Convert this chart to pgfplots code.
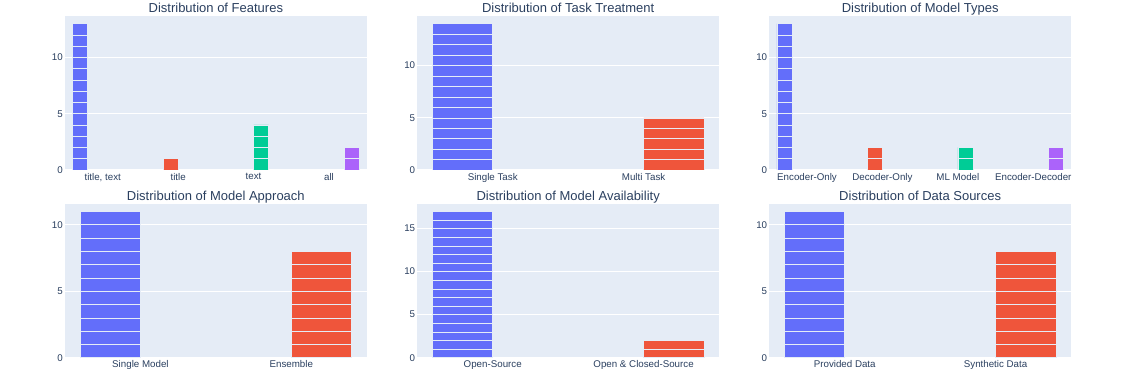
\documentclass[border=0pt]{standalone}
\usepackage{fontspec}
\setmainfont{Liberation Sans}
\usepackage{pgfplots}
\pgfplotsset{compat=1.18}

\definecolor{plotbg}{HTML}{E5ECF6}
\definecolor{txt}{HTML}{2A3F5F}
\definecolor{c1}{HTML}{636EFA}
\definecolor{c2}{HTML}{EF553B}
\definecolor{c3}{HTML}{00CC96}
\definecolor{c4}{HTML}{AB63FA}

% one panel of the 2x3 grid, sizes in px-like pt
\pgfplotsset{
  panel/.style={
    scale only axis, width=301.7pt, height=154pt, anchor=south west,
    axis background/.style={fill=plotbg},
    axis line style={draw=none}, major tick length=0pt,
    ymajorgrids, grid style={white, line width=1pt},
    ymin=0, ytick={0,5,10,15},
    /pgf/number format/assume math mode=true,
    tick label style={font=\fontsize{9.75}{11}\selectfont, text=txt},
    yticklabel style={inner sep=0pt, xshift=-2pt},
    xticklabel style={inner sep=0pt, yshift=-3pt},
    every axis title shift=0pt,
    title style={font=\fontsize{13}{15}\selectfont, text=txt,
                 at={(0.5,1)}, anchor=base, yshift=3.4pt},
  },
  % grouped bars: 4 traces -> width 0.2, 2 traces -> width 0.4 (in category units)
  four/.style={xmin=-0.5, xmax=3.5, xtick={0,1,2,3}},
  two/.style={xmin=-0.5, xmax=1.5, xtick={0,1}},
  seg/.style={ybar, fill=#1, draw=plotbg, line width=0.5pt},
  g4/.style={bar width=15.085pt, bar shift=#1},
  g2/.style={bar width=60.34pt, bar shift=#1},
}

\begin{document}
\begin{tikzpicture}
\path[use as bounding box] (0,0) rectangle (1136pt,369pt);

% ---- row 1 ----
\begin{axis}[panel, four, at={(65pt,199pt)}, ymax=13.68,
  title={Distribution of Features},
  xticklabels={{title, text},title,text,all}]
\addplot[seg=c1, g4=-22.63pt] coordinates {(0,13)(0,12)(0,11)(0,10)(0,9)(0,8)(0,7)(0,6)(0,5)(0,4)(0,3)(0,2)(0,1)};
\addplot[seg=c2, g4=-7.54pt] coordinates {(1,1)};
\addplot[seg=c3, g4=7.54pt] coordinates {(2,4)(2,3)(2,2)(2,1)};
\addplot[seg=c4, g4=22.63pt] coordinates {(3,2)(3,1)};
\end{axis}

\begin{axis}[panel, two, at={(417.3pt,199pt)}, ymax=14.74,
  title={Distribution of Task Treatment},
  xticklabels={Single Task,Multi Task}]
\addplot[seg=c1, g2=-30.17pt] coordinates {(0,14)(0,13)(0,12)(0,11)(0,10)(0,9)(0,8)(0,7)(0,6)(0,5)(0,4)(0,3)(0,2)(0,1)};
\addplot[seg=c2, g2=30.17pt] coordinates {(1,5)(1,4)(1,3)(1,2)(1,1)};
\end{axis}

\begin{axis}[panel, four, at={(769.3pt,199pt)}, ymax=13.68,
  title={Distribution of Model Types},
  xticklabels={Encoder-Only,Decoder-Only,ML Model,Encoder-Decoder}]
\addplot[seg=c1, g4=-22.63pt] coordinates {(0,13)(0,12)(0,11)(0,10)(0,9)(0,8)(0,7)(0,6)(0,5)(0,4)(0,3)(0,2)(0,1)};
\addplot[seg=c2, g4=-7.54pt] coordinates {(1,2)(1,1)};
\addplot[seg=c3, g4=7.54pt] coordinates {(2,2)(2,1)};
\addplot[seg=c4, g4=22.63pt] coordinates {(3,2)(3,1)};
\end{axis}

% ---- row 2 ----
\begin{axis}[panel, two, at={(65pt,11.3pt)}, ymax=11.58,
  title={Distribution of Model Approach},
  xticklabels={Single Model,Ensemble}]
\addplot[seg=c1, g2=-30.17pt] coordinates {(0,11)(0,10)(0,9)(0,8)(0,7)(0,6)(0,5)(0,4)(0,3)(0,2)(0,1)};
\addplot[seg=c2, g2=30.17pt] coordinates {(1,8)(1,7)(1,6)(1,5)(1,4)(1,3)(1,2)(1,1)};
\end{axis}

\begin{axis}[panel, two, at={(417.3pt,11.3pt)}, ymax=17.89,
  title={Distribution of Model Availability},
  xticklabels={Open-Source,Open \& Closed-Source}]
\addplot[seg=c1, g2=-30.17pt] coordinates {(0,17)(0,16)(0,15)(0,14)(0,13)(0,12)(0,11)(0,10)(0,9)(0,8)(0,7)(0,6)(0,5)(0,4)(0,3)(0,2)(0,1)};
\addplot[seg=c2, g2=30.17pt] coordinates {(1,2)(1,1)};
\end{axis}

\begin{axis}[panel, two, at={(769.3pt,11.3pt)}, ymax=11.58,
  title={Distribution of Data Sources},
  xticklabels={Provided Data,Synthetic Data}]
\addplot[seg=c1, g2=-30.17pt] coordinates {(0,11)(0,10)(0,9)(0,8)(0,7)(0,6)(0,5)(0,4)(0,3)(0,2)(0,1)};
\addplot[seg=c2, g2=30.17pt] coordinates {(1,8)(1,7)(1,6)(1,5)(1,4)(1,3)(1,2)(1,1)};
\end{axis}
\end{tikzpicture}
\end{document}
